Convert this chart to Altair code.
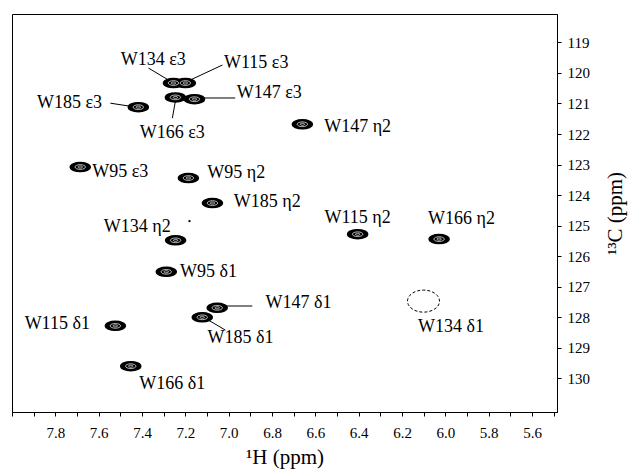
import altair as alt
import pandas as pd

# ---- data ----
peak_names = ["W134 ε3", "W115 ε3", "W166 ε3", "W147 ε3", "W185 ε3", "W147 η2",
              "W95 ε3", "W95 η2", "W185 η2", "W134 η2", "W115 η2", "W166 η2",
              "W95 δ1", "W147 δ1", "W185 δ1", "W115 δ1", "W166 δ1"]
peak_h = [7.255, 7.200, 7.246, 7.158, 7.417, 6.660,
          7.685, 7.186, 7.075, 7.245, 6.405, 6.029,
          7.288, 7.053, 7.122, 7.523, 7.452]
peak_c = [120.33, 120.33, 120.80, 120.86, 121.12, 121.68,
          123.08, 123.44, 124.26, 125.48, 125.28, 125.44,
          126.51, 127.69, 128.00, 128.28, 129.60]

# missing (dashed) peak
missing_name = ["W134 δ1"]
missing_h = [6.101]
missing_c = [127.47]

# small artefact speck
speck_h = [7.181]
speck_c = [124.85]

label_names = ["W134 ε3", "W115 ε3", "W147 ε3", "W185 ε3", "W166 ε3", "W147 η2",
               "W95 ε3", "W95 η2", "W185 η2", "W134 η2", "W115 η2", "W166 η2",
               "W95 δ1", "W147 δ1", "W115 δ1", "W185 δ1", "W166 δ1", "W134 δ1"]
label_h = [7.348, 6.873, 6.813, 7.735, 7.260, 6.405,
           7.500, 6.965, 6.822, 7.422, 6.405, 5.926,
           7.093, 6.678, 7.791, 6.946, 7.260, 5.974]
label_c = [119.58, 119.68, 120.66, 120.99, 121.97, 121.77,
           123.25, 123.28, 124.23, 125.05, 124.76, 124.79,
           126.52, 127.53, 128.22, 128.68, 130.19, 128.32]

leader_names = ["W134 ε3", "W115 ε3", "W147 ε3", "W185 ε3", "W166 ε3", "W147 δ1", "W185 δ1"]
leader_h1 = [7.370, 7.029, 6.970, 7.546, 7.260, 6.891, 7.015]
leader_c1 = [119.84, 119.74, 120.82, 120.99, 121.48, 127.63, 128.42]
leader_h2 = [7.269, 7.177, 7.117, 7.454, 7.246, 7.029, 7.094]
leader_c2 = [120.27, 120.23, 120.82, 121.09, 120.92, 127.63, 128.09]

x_ticks = [round(8.0 - 0.1 * i, 1) for i in range(26)]
y_ticks = list(range(119, 131))

# ---- tables ----
peaks = pd.DataFrame({"name": peak_names, "h": peak_h, "c": peak_c})
missing = pd.DataFrame({"name": missing_name, "h": missing_h, "c": missing_c})
speck = pd.DataFrame({"h": speck_h, "c": speck_c})
labels = pd.DataFrame({"name": label_names, "h": label_h, "c": label_c})
leaders = pd.DataFrame({"name": leader_names, "h": leader_h1, "c": leader_c1,
                        "h2": leader_h2, "c2": leader_c2})

FONT = "Times New Roman, Liberation Serif, serif"

xscale = alt.Scale(domain=[5.485, 8.0], reverse=True, zero=False, nice=False)
yscale = alt.Scale(domain=[118.07, 131.1], reverse=True, zero=False, nice=False)

xaxis = alt.Axis(values=x_ticks,
                 labelExpr="(round(datum.value*10) % 2 == 0 && datum.value < 7.95) ? format(datum.value, '.1f') : ''",
                 tickSize=4, labelPadding=9, labelFontSize=15, labelOverlap=False,
                 labelFlush=False, title="¹H (ppm)", titleFontSize=21, titlePadding=6)
yaxis = alt.Axis(orient="right", values=y_ticks, tickSize=4, labelPadding=6,
                 labelFontSize=15, labelOverlap=False, labelFlush=False,
                 title="¹³C (ppm)", titleFontSize=21, titleAngle=270, titlePadding=36)

X = alt.X("h:Q", scale=xscale, axis=xaxis)
Y = alt.Y("c:Q", scale=yscale, axis=yaxis)

ELL = ("M -1 0 C -1 -0.2485 -0.5523 -0.45 0 -0.45 C 0.5523 -0.45 1 -0.2485 1 0 "
       "C 1 0.2485 0.5523 0.45 0 0.45 C -0.5523 0.45 -1 0.2485 -1 0 Z")
ELL2 = ("M -1 0 C -1 -0.381 -0.5523 -0.69 0 -0.69 C 0.5523 -0.69 1 -0.381 1 0 "
        "C 1 0.381 0.5523 0.69 0 0.69 C -0.5523 0.69 -1 0.381 -1 0 Z")

base_peaks = alt.Chart(peaks)
outer = base_peaks.mark_point(shape=ELL, filled=True, fill="black", stroke="black",
                              strokeWidth=1.5, size=400, opacity=1).encode(x=X, y=Y)
ring1 = base_peaks.mark_point(shape=ELL, filled=False, color="white", size=110,
                              strokeWidth=0.7, opacity=1).encode(x=X, y=Y)
ring2 = base_peaks.mark_point(shape=ELL, filled=False, color="white", size=20,
                              strokeWidth=0.7, opacity=1).encode(x=X, y=Y)

dashed = alt.Chart(missing).mark_point(shape=ELL2, filled=False, color="black", size=1024,
                                       strokeWidth=1, strokeDash=[3, 2], opacity=1).encode(x=X, y=Y)
dot = alt.Chart(speck).mark_point(shape="square", filled=True, color="black", size=4, opacity=1).encode(x=X, y=Y)

lines = alt.Chart(leaders).mark_rule(color="black", strokeWidth=1).encode(
    x=X, y=Y, x2="h2:Q", y2="c2:Q")

texts = alt.Chart(labels).mark_text(font=FONT, fontSize=18, color="black",
                                    align="center", baseline="middle").encode(
    x=X, y=Y, text="name:N")

chart = alt.layer(lines, outer, ring1, ring2, dashed, dot, texts).properties(
    width=545, height=398,
    autosize=alt.AutoSizeParams(type="none"),
    padding={"left": 12, "top": 14, "right": 73, "bottom": 61},
    background="white",
).configure_view(stroke="black", strokeWidth=1).configure_axis(
    labelFont=FONT, titleFont=FONT, labelColor="black", titleColor="black",
    domainColor="black", tickColor="black", grid=False, titleFontWeight="normal",
    domainWidth=1, tickWidth=1,
)

chart.save("out.html", embed_options={"renderer": "svg", "actions": False})
